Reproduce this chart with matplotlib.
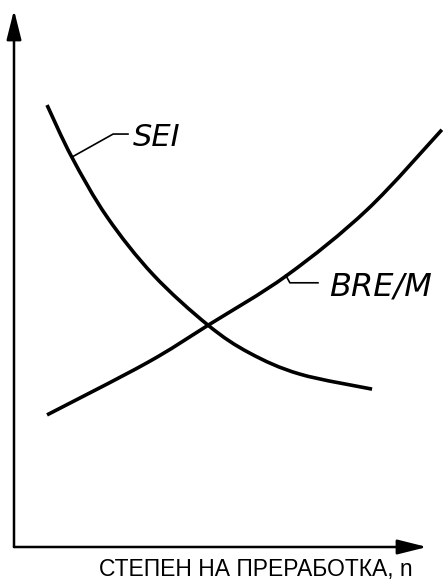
import matplotlib.pyplot as plt
from matplotlib.path import Path
from matplotlib.patches import PathPatch

# arbitrary units (axis runs 0..10 both ways)
sei_x = [0.80, 1.40, 2.25, 3.37, 4.70, 5.71, 6.92, 8.67]
sei_y = [8.23, 7.26, 6.15, 5.07, 4.13, 3.61, 3.22, 2.94]

bre_x = [0.80, 3.22, 4.70, 6.61, 8.55, 10.36]
bre_y = [2.46, 3.43, 4.13, 5.06, 6.28, 7.77]

x_label = "СТЕПЕН НА ПРЕРАБОТКА, n"


def smooth_path(xs, ys):
    # catmull-rom through the points, written as cubic bezier segments
    pts = list(zip(xs, ys))
    verts = [pts[0]]
    codes = [Path.MOVETO]
    n = len(pts)
    for i in range(n - 1):
        p0 = pts[max(i - 1, 0)]
        p1 = pts[i]
        p2 = pts[i + 1]
        p3 = pts[min(i + 2, n - 1)]
        c1 = (p1[0] + (p2[0] - p0[0]) / 6, p1[1] + (p2[1] - p0[1]) / 6)
        c2 = (p2[0] - (p3[0] - p1[0]) / 6, p2[1] - (p3[1] - p1[1]) / 6)
        verts += [c1, c2, p2]
        codes += [Path.CURVE4] * 3
    return Path(verts, codes)


fig = plt.figure(figsize=(4.43, 5.81), dpi=100)
ax = fig.add_axes([14/443, 34/581, 413/443, 537/581])
ax.set_xlim(0, 10)
ax.set_ylim(0, 10)
ax.set_axis_off()

#axes with arrows
arrow = dict(arrowstyle="-|>,head_length=1.8,head_width=0.45", color="black",
             lw=1.8, mutation_scale=10, shrinkA=0, shrinkB=0)
ax.annotate("", xy=(10, 0), xytext=(0, 0), arrowprops=arrow, annotation_clip=False)
ax.annotate("", xy=(0, 10), xytext=(0, 0), arrowprops=arrow, annotation_clip=False)

#curves
for xs, ys in [(sei_x, sei_y), (bre_x, bre_y)]:
    ax.add_patch(PathPatch(smooth_path(xs, ys), facecolor="none", edgecolor="black",
                           lw=2.6, capstyle="butt", clip_on=False))

#leader lines and curve names
ax.plot([1.40, 2.40, 2.76], [7.26, 7.69, 7.69], color="black", lw=1.2)
ax.text(2.88, 7.63, "SEI", fontsize=22, style="oblique", va="center", ha="left")

ax.plot([6.58, 6.68, 7.36], [5.06, 4.92, 4.92], color="black", lw=1.2)
ax.text(7.62, 4.84, "BRE/M", fontsize=23, style="oblique", va="center", ha="left",
        clip_on=False)

fig.text(256/443, 5/581, x_label, fontsize=16.5, family="Liberation Sans",
         ha="center", va="baseline")

plt.savefig("out.png", dpi=100)
